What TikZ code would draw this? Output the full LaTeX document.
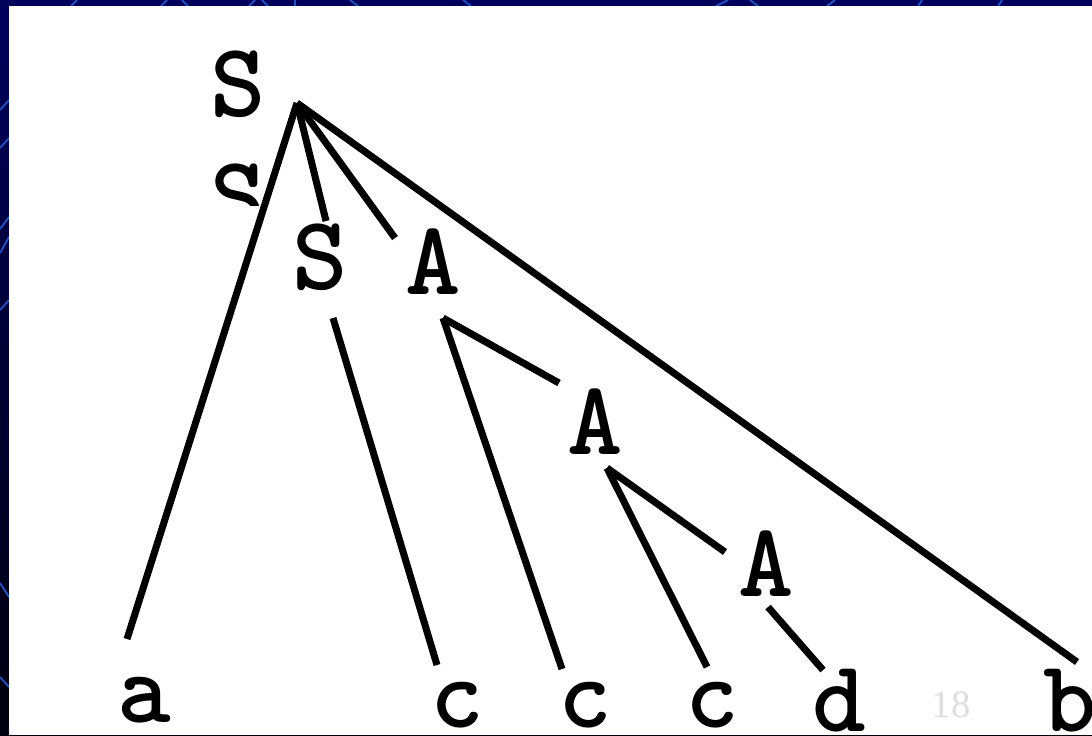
\documentclass[tikz,border=0pt]{standalone}
\usepackage{fontspec}
\usepackage{tikz}
\usetikzlibrary{positioning, calc}
\newfontfamily\numfont{Liberation Serif}
\definecolor{SlideNavy}{RGB}{0,0,92}
\definecolor{SlideDark}{RGB}{0,0,14}
\definecolor{WebBlue}{RGB}{30,85,200}
\definecolor{PageGray}{RGB}{222,222,222}

\begin{document}
\begin{tikzpicture}[x=0.01cm, y=-0.01cm,
	nt/.style={inner sep=0pt, anchor=base, font=\ttfamily\bfseries\fontsize{30}{30}\selectfont},
	leaf/.style={inner sep=0pt, anchor=base, font=\ttfamily\bfseries\fontsize{29}{29}\selectfont},
	edge/.style={line width=2pt}]
\useasboundingbox (0,0) rectangle (1092,735);
% slide background
\shade[top color=SlideNavy, bottom color=SlideDark] (0,0) rectangle (1092,735);
\foreach \x/\d in {74/-3,164/-3,185/3,252/-3,265/3,295/0,354/4,467/4,722/-6,754/4,831/-4,920/-2,1000/-2}
	\draw[WebBlue, line width=0.5pt] (\x-\d,0) -- (\x+\d,6);
\foreach \y/\d in {105/-5,143/-5,223/-6,245/-8,305/-5,590/7,682/5}
	\draw[WebBlue, line width=0.5pt] (0,\y-\d) -- (9,\y+\d);
\fill[white] (9,6) rectangle (1092,735);
% nonterminals
\node[nt] (S0) at (238,116) {S};
\begin{scope}
	\clip (200,150) rectangle (280,205);
	\node[nt] (S1) at (238,229) {S};
\end{scope}
\node[nt] (S2) at (320,289) {S};
\node[nt] (A2) at (433,294) {A};
\node[nt] (A3) at (595,454) {A};
\node[nt] (A4) at (766,596) {A};
% terminals
\node[leaf] (a) at (144,722) {a};
\node[leaf] (c1) at (457,727) {c};
\node[leaf] (c2) at (585,727) {c};
\node[leaf] (c3) at (712,727) {c};
\node[leaf] (d) at (839,731) {d};
\node[leaf] (b) at (1070,731) {b};
\node[font=\numfont\fontsize{11}{11}\selectfont, text=PageGray, inner sep=0pt] (pg) at (951,705) {18};
% branch points and line ends
\coordinate (rS0) at (297,103);
\coordinate (rS2) at (333,318);
\coordinate (rA2) at (443,318);
\coordinate (rA3) at (607,468);
\coordinate (rA4) at (768,607);
\coordinate (ea) at (127,639);
\coordinate (eS2) at (326,221);
\coordinate (eA2) at (395,238);
\coordinate (eb) at (1077,662);
\coordinate (ec1) at (437,665);
\coordinate (ec2) at (562,669);
\coordinate (eA3) at (559,383);
\coordinate (ec3) at (707,667);
\coordinate (eA4) at (725,552);
\coordinate (ed) at (823,670);
% branches
\foreach \e in {ea,eS2,eA2,eb}
	\draw[edge] (rS0) -- (\e);
\draw[edge] (rS2) -- (ec1);
\foreach \e in {ec2,eA3}
	\draw[edge] (rA2) -- (\e);
\foreach \e in {ec3,eA4}
	\draw[edge] (rA3) -- (\e);
\draw[edge] (rA4) -- (ed);
\end{tikzpicture}
\end{document}
